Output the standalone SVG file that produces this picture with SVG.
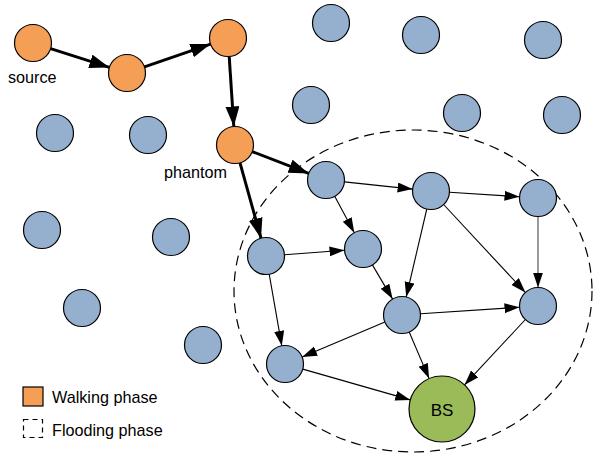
<svg xmlns="http://www.w3.org/2000/svg" width="595" height="453" viewBox="0 0 595 453">
<style>
.o{fill:#F59E56;stroke:#000;stroke-width:1.2}
.b{fill:#95AFCE;stroke:#000;stroke-width:1.2}
.g{fill:#9BBB59;stroke:#000;stroke-width:1.2}
.t{font-family:"Liberation Sans",Arial,sans-serif;font-size:16.2px;fill:#000}
.thick{stroke:#000;stroke-width:3;fill:none;marker-end:url(#ah)}
.thin{stroke:#000;stroke-width:1.1;fill:none;marker-end:url(#as)}
.grey{stroke:#808080;stroke-width:1.6;fill:none;marker-end:url(#as)}
</style>
<defs>
<marker id="ah" markerUnits="userSpaceOnUse" markerWidth="22" markerHeight="16" refX="20" refY="7" orient="auto" viewBox="0 0 22 16"><path d="M0,0 L20,7 L0,14 z" fill="#000"/></marker>
<marker id="as" markerUnits="userSpaceOnUse" markerWidth="16" markerHeight="12" refX="15" refY="5" orient="auto" viewBox="0 0 16 12"><path d="M0,0 L15,5 L0,10 z" fill="#000"/></marker>
</defs>
<rect width="595" height="453" fill="#fff"/>
<ellipse cx="413" cy="291" rx="179" ry="161" fill="none" stroke="#000" stroke-width="1.2" stroke-dasharray="10,6"/>
<g id="connectors">
<line class="thick" x1="50.6" y1="48.6" x2="109.4" y2="67.4"/>
<line class="thick" x1="144.5" y1="66.9" x2="210.5" y2="44.1"/>
<line class="thick" x1="229.2" y1="56.5" x2="233.8" y2="126.5"/>
<line class="thick" x1="252.3" y1="151.6" x2="308.7" y2="173.4"/>
<line class="thick" x1="240" y1="162.8" x2="261" y2="238.2"/>
<line class="thin" x1="344.4" y1="181.9" x2="412.6" y2="189.1"/>
<line class="thin" x1="334.7" y1="196.3" x2="354.3" y2="232.7"/>
<line class="thin" x1="449.5" y1="192.2" x2="519.5" y2="196.8"/>
<line class="thin" x1="426.8" y1="209" x2="406.2" y2="297"/>
<line class="thin" x1="443.6" y1="204.5" x2="525.4" y2="292.5"/>
<line class="grey" x1="538" y1="216.5" x2="538" y2="287.5"/>
<line class="thin" x1="284.5" y1="254.7" x2="344.5" y2="250.3"/>
<line class="thin" x1="269.2" y1="274.2" x2="281.8" y2="345.8"/>
<line class="thin" x1="372.4" y1="264.9" x2="392.6" y2="299.1"/>
<line class="thin" x1="420.5" y1="313.8" x2="519.5" y2="307.2"/>
<line class="thin" x1="384.9" y1="322.1" x2="302.1" y2="356.9"/>
<line class="thin" x1="409.2" y1="332" x2="429.1" y2="378.6"/>
<line class="thin" x1="525.4" y1="319.5" x2="464.5" y2="384.9"/>
<line class="thin" x1="302.8" y1="369.1" x2="410.3" y2="399.9"/>
</g>
<g id="source"><circle class="o" cx="33" cy="43" r="18.5"/><text class="t" x="8" y="83">source</text></g>
<g id="walk2"><circle class="o" cx="127" cy="73" r="18.5"/></g>
<g id="walk3"><circle class="o" cx="228" cy="38" r="18.5"/></g>
<g id="phantom"><circle class="o" cx="235" cy="145" r="18.5"/><text class="t" x="164" y="178">phantom</text></g>
<g id="bg1"><circle class="b" cx="55" cy="133" r="18.5"/></g>
<g id="bg2"><circle class="b" cx="148" cy="135" r="18.5"/></g>
<g id="bg3"><circle class="b" cx="331" cy="23" r="18.5"/></g>
<g id="bg4"><circle class="b" cx="421" cy="35" r="18.5"/></g>
<g id="bg5"><circle class="b" cx="543" cy="40" r="18.5"/></g>
<g id="bg6"><circle class="b" cx="311" cy="105" r="18.5"/></g>
<g id="bg7"><circle class="b" cx="462" cy="113" r="18.5"/></g>
<g id="bg8"><circle class="b" cx="562" cy="115" r="18.5"/></g>
<g id="bg9"><circle class="b" cx="42" cy="230" r="18.5"/></g>
<g id="bg10"><circle class="b" cx="171" cy="237" r="18.5"/></g>
<g id="bg11"><circle class="b" cx="82" cy="308" r="18.5"/></g>
<g id="bg12"><circle class="b" cx="203" cy="345" r="18.5"/></g>
<g id="nA"><circle class="b" cx="326" cy="180" r="18.5"/></g>
<g id="nB"><circle class="b" cx="431" cy="191" r="18.5"/></g>
<g id="nC"><circle class="b" cx="538" cy="198" r="18.5"/></g>
<g id="nD"><circle class="b" cx="266" cy="256" r="18.5"/></g>
<g id="nE"><circle class="b" cx="363" cy="249" r="18.5"/></g>
<g id="nF"><circle class="b" cx="402" cy="315" r="18.5"/></g>
<g id="nG"><circle class="b" cx="538" cy="306" r="18.5"/></g>
<g id="nH"><circle class="b" cx="285" cy="364" r="18.5"/></g>
<g id="BS"><circle class="g" cx="442" cy="409" r="33"/><text class="t" x="442" y="415.5" text-anchor="middle" style="font-size:17px">BS</text></g>
<g id="legend">
<rect x="23" y="387" width="20" height="19" fill="#F59E56" stroke="#000" stroke-width="1.2"/>
<text class="t" x="52" y="403">Walking phase</text>
<rect x="23.5" y="419.5" width="19" height="18" fill="none" stroke="#000" stroke-width="1.2" stroke-dasharray="5,4"/>
<text class="t" x="52" y="436">Flooding phase</text>
</g>
</svg>
